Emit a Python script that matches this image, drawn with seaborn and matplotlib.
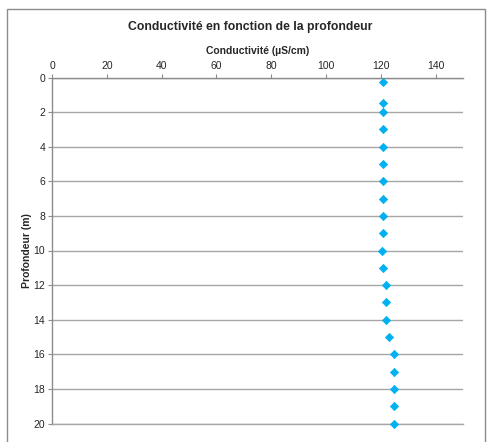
import matplotlib
matplotlib.use("Agg")
import matplotlib.pyplot as plt
import seaborn as sns
import pandas as pd
from matplotlib.patches import Rectangle

depth = [0.25, 1.5, 2, 3, 4, 5, 6, 7, 8, 9, 10, 11, 12, 13, 14, 15, 16, 17, 18, 19, 20]
conductivity = [120.8, 120.8, 120.8, 120.8, 120.8, 120.8, 120.8, 120.8, 120.8, 120.8,
                120.6, 120.8, 122.0, 122.0, 122.0, 122.9, 124.8, 124.8, 124.8, 124.8, 124.8]
x_ticks = [0, 20, 40, 60, 80, 100, 120, 140]
y_ticks = [0, 2, 4, 6, 8, 10, 12, 14, 16, 18, 20]

sns.set_style("white")
plt.rcParams['font.family'] = ['Liberation Sans', 'DejaVu Sans']

df = pd.DataFrame({"Profondeur": depth, "Conductivite": conductivity})

fig = plt.figure(figsize=(4.88, 4.42), dpi=100)
fig.patch.set_facecolor("white")
fig.add_artist(Rectangle((7 / 488, -0.05), (485 - 7) / 488, 1.05 - 9 / 442,
                         transform=fig.transFigure, fill=False,
                         edgecolor="#8c8c8c", linewidth=1.0))

ax = fig.add_axes([52 / 488, 1 - 423.5 / 442, (463 - 52) / 488, (423.5 - 77.5) / 442])
sns.scatterplot(data=df, x="Conductivite", y="Profondeur", ax=ax, marker="D",
                color="#00B0F0", edgecolor="#00B0F0", s=18, linewidth=0.5, zorder=3,
                clip_on=False)

ax.set_xlim(0, 150)
ax.set_ylim(20, 0)
ax.set_xticks(x_ticks)
ax.set_yticks(y_ticks)
ax.xaxis.tick_top()
ax.xaxis.set_label_position("top")
ax.tick_params(axis="x", direction="out", length=3, width=0.8, color="#8c8c8c",
               labelsize=7.5, pad=2, top=True, bottom=False)
ax.tick_params(axis="y", direction="out", length=3, width=0.8, color="#8c8c8c",
               labelsize=7.5, pad=2, left=True)
ax.yaxis.grid(True, color="#a6a6a6", linewidth=1.0)
ax.xaxis.grid(False)
ax.set_axisbelow(True)
ax.spines["right"].set_visible(False)
ax.spines["bottom"].set_color("#a6a6a6")
ax.spines["bottom"].set_linewidth(1.0)
for side in ["left", "top"]:
    ax.spines[side].set_color("#8c8c8c")
    ax.spines[side].set_linewidth(1.0)

ax.set_xlabel("Conductivité (µS/cm)", fontsize=7.5, fontweight="bold", labelpad=5)
ax.set_ylabel("Profondeur (m)", fontsize=7.5, fontweight="bold", labelpad=1)
fig.text(250 / 488, 1 - 27 / 442, "Conductivité en fonction de la profondeur",
         ha="center", va="center", fontsize=8.8, fontweight="bold")

fig.savefig("out.png", dpi=100)
